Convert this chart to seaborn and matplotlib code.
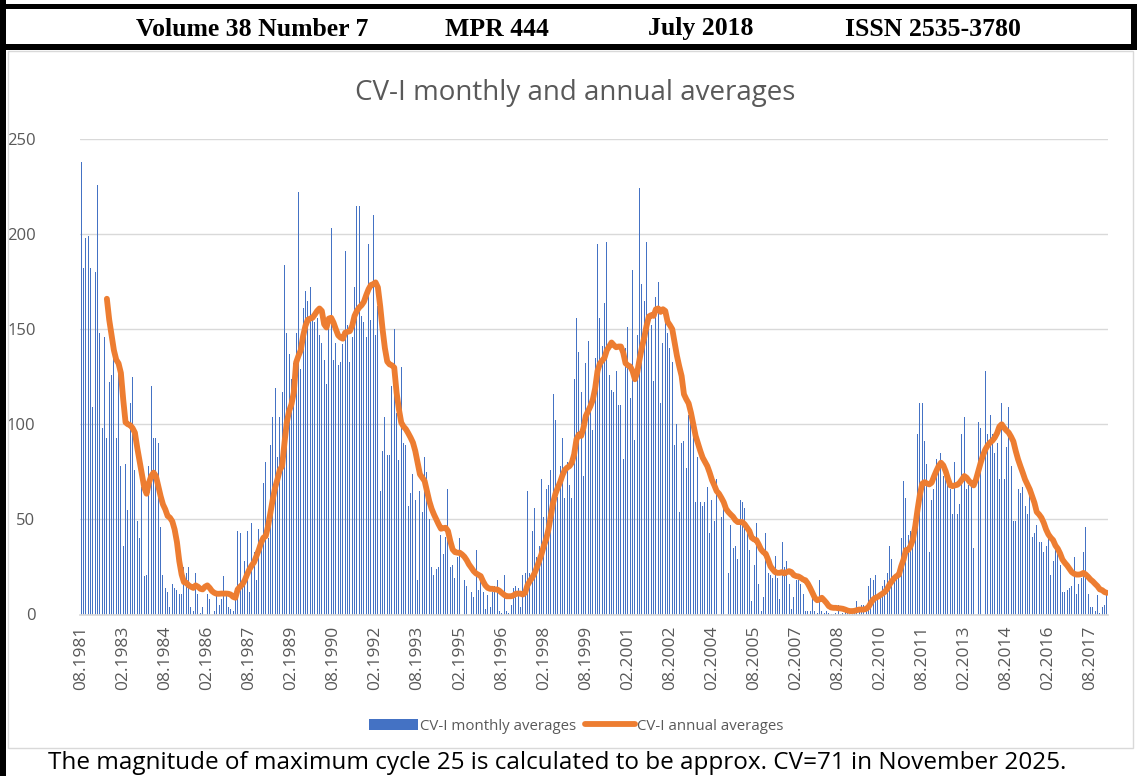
import numpy as np
import matplotlib
matplotlib.use('Agg')
import matplotlib.pyplot as plt
import seaborn as sns
from matplotlib.patches import Rectangle, Patch
from matplotlib.lines import Line2D

# --- DADOS ---
# medias mensais CV-I, a partir de 08.1981
monthly = [
    238, 182, 198, 199, 182, 109, 180, 226, 148, 98, 146, 93, 122, 126, 140, 93, 128, 78, 36, 79,
    55, 111, 125, 76, 49, 40, 67, 20, 21, 78, 120, 93, 93, 90, 46, 21, 14, 12, 4, 16,
    14, 13, 11,
    11, 25, 22, 25, 4, 2, 22, 11, 1, 4, 31, 11, 8, 7, 2, 10, 5, 8, 20, 10,
    4, 3, 2, 14, 44, 43, 16, 28, 44, 12, 48, 33, 18, 45, 35, 69, 80, 40, 89, 104,
    119, 83, 104,
    117, 184, 148, 137, 124, 132, 148, 222, 129, 161, 170, 165, 172, 158, 154, 156, 147, 143, 134, 121,
    152, 203, 134, 143, 131, 133, 142, 191, 152, 133, 146, 172, 215, 215, 157, 154, 146, 195, 155, 210,
    147, 162, 65, 86, 104, 84,
    84, 120, 150, 106, 81, 130, 90, 89, 57, 64, 74, 60, 18, 65, 54, 83, 75, 50, 25, 21,
    24, 25, 42, 32, 41, 66, 25, 26, 19, 30, 40, 21, 18, 15, 20, 12, 9, 34, 13, 21,
    12, 3, 10, 4, 12,
    15, 18, 2, 1, 21, 2, 1, 5, 14, 15, 14, 4, 21, 22, 65, 22, 44, 56, 30, 36,
    71, 51, 66, 68, 76, 116, 102, 62, 78, 93, 61, 80, 68, 61, 124, 156, 138, 117, 73, 132,
    144, 111, 97, 135, 195,
    156, 141, 164, 196, 126, 118, 117, 128, 110, 110, 82, 140, 151, 114, 181, 92, 147, 224, 174, 165,
    196, 152, 152, 123, 167, 175, 111, 143, 154, 148, 140, 133, 89, 100, 54, 90, 91, 77, 105, 107,
    94, 59, 83, 59, 57,
    59, 67, 43, 60, 49, 71, 68, 51, 56, 52, 22, 47, 35, 36, 29, 60, 59, 56, 45, 34,
    7, 26, 48, 16, 2, 9, 43, 22, 21, 19, 31, 19, 8, 38, 25, 28, 16, 3, 9, 18,
    18, 16, 11,
    2, 2, 2, 11, 2, 1, 18, 2, 1, 2, 1, 0.5, 0.5, 1, 5, 0.5, 1, 3, 1, 0.5,
    0.5, 1, 7, 3, 5, 5, 3, 15, 19, 18, 21, 10, 11, 15, 18, 22, 36, 29, 20, 22,
    21, 40, 70, 61, 42,
    44, 39, 56, 95, 111, 111, 91, 79, 33, 60, 66, 82, 78, 85, 73, 76, 69, 66, 53, 80,
    53, 58, 95, 104, 66, 68, 69, 35, 104, 101, 98, 105, 128, 95, 105, 95, 85, 90, 71, 111,
    71, 88, 109, 78, 49,
    49, 66, 64, 67, 57, 53, 64, 41, 43, 47, 38, 38, 33, 36, 43, 21, 28, 36, 33, 26,
    12, 12, 13, 14, 15, 30, 11, 16, 19, 33, 46, 11, 4, 4, 2, 10, 1, 4, 5, 10,
]

# medias anuais (media movel), comecam no mes 11 da serie
annual_start = 11
annual = [
    166, 155, 147, 139, 134, 132, 127, 113, 101, 100,
    99.5, 98, 95.6, 87.7, 80.7, 73.7, 66.7, 63.5, 69.3, 72.8,
    74.6, 72.8, 67.5, 62.3, 57.9, 55.3, 51.8, 50.9, 49, 44.7,
    38, 28, 21, 17, 16.7, 15.3, 14.6, 14, 15.3, 14.6,
    13.5, 13.2, 14.6, 15.3, 14, 12.3, 11.4, 10.9, 10.9, 11,
    11, 11, 10.9, 10.5, 9.3, 8.8, 13.2, 14.6, 15.8, 18,
    21, 23.7, 25.8, 27.5, 30.7, 33.9, 37.7, 40.4, 41.2, 46.5,
    53.5, 60.5, 66.7, 71, 76, 78, 90, 101, 107, 110.5,
    116.7, 132.5, 136, 139, 146.5, 151.8, 155, 155.6, 156, 157.7,
    159.6, 160.9, 159.6, 152.6, 150.9, 155.6, 156, 153.5, 150, 146.8,
    145.6, 145, 148.2, 148.6, 149, 151.8, 157, 159.6, 161.4, 162.6,
    164.4, 167.9, 171, 173.2, 173.7, 174.6, 172, 162, 150, 140,
    133, 131.5, 131, 129.8, 116.7, 107.9, 100.9, 98.8, 97.4, 95.3,
    93, 90.4, 86, 79.8, 73.7, 71.9, 70.2, 64.9, 59.6, 55.6,
    52.6, 50, 47.4, 45.1, 45.4, 45.6, 43.9, 38.6, 34.2, 32.8,
    32.5, 32.5, 31.6, 30.4, 28.6, 26.3, 24.6, 22.8, 21.6, 20.9,
    20.2, 17.5, 15.3, 14, 13.5, 13.5, 13.2, 13.2, 12.5, 11.4,
    10.4, 9.6, 9.6, 9.6, 10, 10.9, 11, 11, 10.5, 11.4,
    15.3, 17.5, 19.3, 21.6, 24.6, 28, 31.6, 36, 39.5, 44.7,
    51.8, 58.8, 63.5, 66.7, 69.6, 73.2, 76, 77.2, 78, 79.8,
    84.2, 92.1, 94.7, 93.9, 98.2, 104.4, 107, 109.6, 113, 119,
    128, 131.9, 133.5, 135, 139, 140.9, 143, 141.6, 140.5, 140.9,
    140.9, 137.7, 132.1, 131, 130.4, 128, 123.7, 127.2, 134.2, 140.4,
    145.6, 151.8, 156.7, 157.4, 157, 160.5, 160.9, 159.1, 160.5, 159.6,
    153.9, 152.1, 150, 143, 136, 130.4, 125.4, 115.8, 113.2, 111,
    106.1, 100, 93.9, 90, 86, 82.5, 80.2, 78, 74.6, 70.7,
    67.9, 64.9, 63.5, 61.4, 59.1, 55.6, 53.9, 52.6, 51.4, 49.6,
    48.6, 48.6, 48.6, 47.4, 45.6, 43.9, 40.4, 39.5, 39.1, 36.8,
    34.2, 32.8, 31.9, 28.9, 25.4, 23.7, 22.3, 21.9, 21.9, 22.3,
    21.6, 22.3, 22.8, 22.3, 20.7, 20.2, 20, 19.3, 18.4, 18,
    16.3, 14, 11.4, 8.8, 7.5, 7.9, 8.8, 7.5, 6.1, 4.4,
    3.7, 3.5, 3.5, 3.3, 3.2, 3, 2.6, 2.1, 1.8, 1.8,
    1.9, 2.3, 2.6, 2.6, 2.6, 3, 4, 6.1, 7.9, 8.8,
    9.3, 10.2, 11, 11.9, 13.5, 15.8, 17.5, 19.1, 20.2, 20.9,
    25.4, 28.9, 33.9, 34, 36, 39.5, 46.5, 55.3, 63.2, 68.8,
    69.6, 68.9, 68.4, 69.3, 72.5, 75.4, 78, 79.8, 78.4, 75.4,
    71.4, 67.9, 67.5, 67.9, 68.2, 69.3, 71, 72.8, 71.9, 70.2,
    68.9, 67.9, 71, 75.4, 79.8, 83.7, 86.8, 88.9, 90.4, 91.4,
    93, 95.3, 98.8, 100, 98.2, 96.8, 95.6, 93.5, 91, 86,
    81.6, 78, 74.6, 71, 68.4, 65.8, 62.3, 58.8, 53.9, 52.6,
    50.9, 48.2, 44.7, 42.1, 40.4, 39.1, 36.3, 34.6, 32.1, 28.9,
    27.2, 25.8, 24, 22.3, 21.4, 21, 21, 21.2, 21.9, 21,
    19.8, 18.4, 17.4, 16.1, 14.9, 13.2, 12.8, 11.8, 11.4,
]

tick_labels = ['08.1981', '02.1983', '08.1984', '02.1986', '08.1987', '02.1989', '08.1990',
               '02.1992', '08.1993', '02.1995', '08.1996', '02.1998', '08.1999', '02.2001',
               '08.2002', '02.2004', '08.2005', '02.2007', '08.2008', '02.2010', '08.2011',
               '02.2013', '08.2014', '02.2016', '08.2017']
tick_step = 18
y_ticks = [0, 50, 100, 150, 200, 250]

header_items = ['Volume 38 Number 7', 'MPR 444', 'July 2018', 'ISSN 2535-3780']
titulo = 'CV-I monthly and annual averages'
rodape = 'The magnitude of maximum cycle 25 is calculated to be approx. CV=71 in November 2025.'

AZUL = '#4472C4'
LARANJA = '#ED7D31'
CINZA_TXT = '#595959'
CINZA_GRADE = '#D9D9D9'

W, H = 1137, 776


def fx(px):
    return px / W


def fy(py):
    return 1 - py / H


def caixa(x0, y0, x1, y1, **kw):
    # retangulo em pixels da figura (y para baixo)
    fig.add_artist(Rectangle((fx(x0), fy(y1)), (x1 - x0) / W, (y1 - y0) / H,
                             transform=fig.transFigure, **kw))


sns.set_theme(style='white')
plt.rcParams['font.family'] = ['Open Sans', 'DejaVu Sans']

fig = plt.figure(figsize=(W / 100, H / 100), dpi=100)
fig.patch.set_facecolor('white')

# moldura preta do cabecalho
caixa(0, 0, 6, 776, facecolor='black', edgecolor='none', zorder=5)
caixa(0, 4, W, 9, facecolor='black', edgecolor='none', zorder=5)
caixa(0, 44, W, 50, facecolor='black', edgecolor='none', zorder=5)
caixa(1131, 4, W, 50, facecolor='black', edgecolor='none', zorder=5)
# borda cinza da area do grafico
caixa(8, 51, 1133, 748, facecolor='none', edgecolor=CINZA_GRADE, lw=1, zorder=4)

header_x = [252, 497, 701, 933]
for txt, px in zip(header_items, header_x):
    fig.text(fx(px), fy(29), txt, ha='center', va='center', fontsize=18.5,
             fontweight='bold', family='Liberation Serif', color='black')

fig.text(fx(575), fy(93), titulo, ha='center', va='center', fontsize=20, color=CINZA_TXT)

ax = fig.add_axes([fx(80), fy(614.5), fx(1108) - fx(80), (614.5 - 139) / H])

x_m = np.arange(len(monthly))
sns.barplot(x=x_m, y=monthly, color=AZUL, saturation=1, width=0.42,
            linewidth=0, ax=ax, zorder=2)
x_a = np.arange(annual_start, annual_start + len(annual))
sns.lineplot(x=x_a, y=annual, color=LARANJA, linewidth=4.2, ax=ax, zorder=3,
             solid_capstyle='round', solid_joinstyle='round')

ax.set_xlim(-0.5, len(monthly) - 0.5)
ax.set_ylim(0, 250)
ax.set_yticks(y_ticks)
ax.set_yticklabels([str(v) for v in y_ticks], fontsize=12, color=CINZA_TXT)
ax.set_xticks(np.arange(0, len(tick_labels) * tick_step, tick_step))
ax.set_xticklabels(tick_labels, rotation=90, fontsize=12.5, color=CINZA_TXT)
ax.tick_params(axis='x', length=0, pad=8)
ax.tick_params(axis='y', length=0, pad=32)
ax.grid(axis='y', color=CINZA_GRADE, lw=1)
ax.set_axisbelow(True)
for s in ['top', 'right', 'left']:
    ax.spines[s].set_visible(False)
ax.spines['bottom'].set_color(CINZA_GRADE)
ax.set_xlabel('')
ax.set_ylabel('')

handles = [Patch(facecolor=AZUL, edgecolor='none', label='CV-I monthly averages'),
           Line2D([0], [0], color=LARANJA, lw=4.2, label='CV-I annual averages')]
fig.legend(handles=handles, loc='center', bbox_to_anchor=(fx(576), fy(726)), ncol=2,
           frameon=False, fontsize=10.8, handlelength=3.3, handleheight=0.75,
           columnspacing=0.6, handletextpad=0.15, labelcolor=CINZA_TXT)

fig.text(fx(48), fy(763), rodape, ha='left', va='center', fontsize=17.5,
         family=['Open Sans', 'DejaVu Sans'], color='black')

fig.savefig('out.png', dpi=100, facecolor='white')
